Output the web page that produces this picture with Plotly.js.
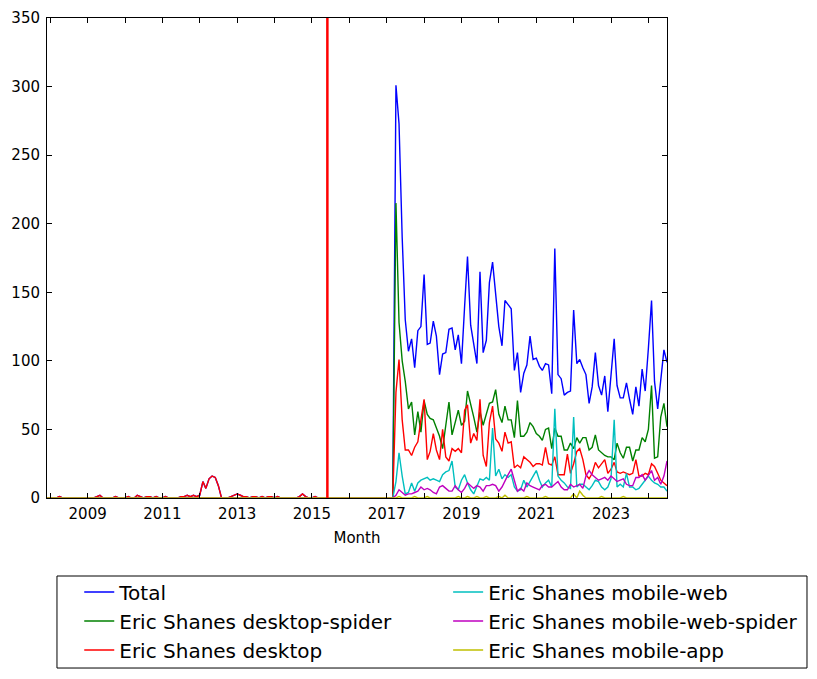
<!DOCTYPE html>
<html>
<head>
<meta charset="utf-8">
<script src="https://cdn.plot.ly/plotly-3.0.1.min.js"></script>
<style>html,body{margin:0;padding:0;background:#fff}#chart{width:817px;height:679px}</style>
</head>
<body>
<div id="chart"></div>
<script>
// Monthly series, first month 2007-12, last month 2024-07
const firstMonth = '2007-12';
const markerDate = '2015-06-01';

const seriesNames = ['Total', 'Eric Shanes desktop-spider', 'Eric Shanes desktop',
  'Eric Shanes mobile-web', 'Eric Shanes mobile-web-spider', 'Eric Shanes mobile-app'];

const total = [
  0,0,0,0,1,0,0,0,0,0, 0,0,0,0,0,0,1,2,0,0, 0,0,1,0,0,0,1,0,0,2, 1,0,1,1,0,1,0,0,1,0,
  0,0,0,1,1,2,1,2,1,2, 12,7,14,16,15,9,0,0,0,1, 2,3,2,1,1,0,1,1,0,1, 0,1,1,0,1,0,0,0,0,0,
  0,1,3,1,0,0,1,0,0,0, 0,0,0,0,0,0,0,0,0,0, 0,0,0,0,0,0,0,0,0,0, 0,0,
  301,273,190,130,107,116,95,122,125,163, 112,113,129,118,90,105,106,123,124,108,
  119,98,140,176,126,113,98,165,106,115, 157,172,150,125,111,144,141,138,93,106,
  77,91,97,118,101,102,96,93,98,97, 76,182,90,87,75,77,78,137,98,101,
  95,90,69,81,106,82,75,89,63,87, 116,82,73,73,84,72,61,81,67,94,
  78,109,144,85,65,86,108,99
];

const desktopSpider = [
  0,0,0,0,0,0,0,0,0,0, 0,0,0,0,0,0,0,0,0,0, 0,0,0,0,0,0,0,0,0,0, 0,0,0,0,0,0,0,0,0,0,
  0,0,0,0,0,0,0,0,0,0, 0,0,0,0,0,0,0,0,0,0, 0,0,0,0,0,0,0,0,0,0, 0,0,0,0,0,0,0,0,0,0,
  0,0,0,0,0,0,0,0,0,0, 0,0,0,0,0,0,0,0,0,0, 0,0,0,0,0,0,0,0,0,0, 0,0,
  215,128,100,85,65,70,46,63,48,71, 61,58,57,51,45,36,55,70,46,56,
  64,53,56,78,69,59,48,63,53,62, 69,70,79,61,55,67,57,57,44,71,
  45,45,48,55,52,47,45,42,50,51, 36,51,45,45,35,35,40,36,44,40,
  44,44,35,37,46,35,33,31,30,30, 28,40,33,29,37,37,27,35,35,44,
  41,50,82,29,30,59,69,52
];

const desktop = [
  0,0,0,0,1,0,0,0,0,0, 0,0,0,0,0,0,1,2,0,0, 0,0,1,0,0,0,1,0,0,2, 1,0,1,1,0,1,0,0,1,0,
  0,0,0,1,1,2,1,2,1,2, 12,7,14,16,15,9,0,0,0,1, 2,3,2,1,1,0,1,1,0,1, 0,1,1,0,1,0,0,0,0,0,
  0,1,3,1,0,0,1,0,0,0, 0,0,0,0,0,0,0,0,0,0, 0,0,0,0,0,0,0,0,0,0, 0,0,
  77,101,57,35,35,31,37,41,57,72, 28,34,47,35,28,50,30,27,36,34,
  36,33,64,68,40,47,42,72,31,23, 55,67,43,40,34,48,40,41,22,24,
  22,30,28,26,23,25,25,24,37,25, 24,30,17,17,17,32,18,25,34,36,
  28,17,14,18,26,22,25,28,18,21, 26,19,18,19,18,17,18,28,16,16,
  18,17,25,23,18,13,11,9
];

const mobileWeb = [
  0,0,0,0,0,0,0,0,0,0, 0,0,0,0,0,0,0,0,0,0, 0,0,0,0,0,0,0,0,0,0, 0,0,0,0,0,0,0,0,0,0,
  0,0,0,0,0,0,0,0,0,0, 0,0,0,0,0,0,0,0,0,0, 0,0,0,0,0,0,0,0,0,0, 0,0,0,0,0,0,0,0,0,0,
  0,0,0,0,0,0,0,0,0,0, 0,0,0,0,0,0,0,0,0,0, 0,0,0,0,0,0,0,0,0,0, 0,0,
  12,33,16,3,4,11,5,11,13,14, 15,13,14,13,12,17,19,20,27,8,
  6,13,17,11,6,3,8,14,13,15, 13,51,16,21,14,17,15,17,8,5,
  6,13,8,12,16,20,13,8,11,13, 8,65,16,13,11,8,7,59,8,10,
  10,8,6,9,13,12,8,6,8,14, 57,8,10,8,18,8,8,6,7,10,
  13,16,13,11,10,8,8,5
];

const mobileWebSpider = [
  0,0,0,0,0,0,0,0,0,0, 0,0,0,0,0,0,0,0,0,0, 0,0,0,0,0,0,0,0,0,0, 0,0,0,0,0,0,0,0,0,0,
  0,0,0,0,0,0,0,0,0,0, 0,0,0,0,0,0,0,0,0,0, 0,0,0,0,0,0,0,0,0,0, 0,0,0,0,0,0,0,0,0,0,
  0,0,0,0,0,0,0,0,0,0, 0,0,0,0,0,0,0,0,0,0, 0,0,0,0,0,0,0,0,0,0, 0,0,
  2,6,4,2,3,3,4,5,8,6, 7,6,4,3,8,9,7,5,5,9,
  6,4,7,11,9,7,9,8,5,9, 9,10,9,5,8,13,17,21,13,5,
  7,5,11,9,8,7,6,9,10,8, 8,10,12,8,6,6,10,8,9,10,
  7,16,20,17,15,13,14,15,13,16, 14,12,13,14,10,9,9,15,15,17,
  13,17,20,13,15,10,16,27
];

const mobileApp = [
  0,0,0,0,0,0,0,0,0,0, 0,0,0,0,0,0,0,0,0,0, 0,0,0,0,0,0,0,0,0,0, 0,0,0,0,0,0,0,0,0,0,
  0,0,0,0,0,0,0,0,0,0, 0,0,0,0,0,0,0,0,0,0, 0,0,0,0,0,0,0,0,0,0, 0,0,0,0,0,0,0,0,0,0,
  0,0,0,0,0,0,0,0,0,0, 0,0,0,0,0,0,0,0,0,0, 0,0,0,0,0,0,0,0,0,0, 0,0,
  0,1,0,0,0,0,1,0,0,0, 1,0,0,0,0,0,0,0,0,0,
  1,0,0,1,0,0,1,0,0,1, 0,0,0,1,0,2,0,0,0,0,
  0,0,1,0,0,0,0,0,1,0, 0,0,0,0,0,0,0,3,0,5,
  2,0,0,0,0,0,1,0,0,0, 0,0,0,1,0,0,0,0,0,0,
  0,0,0,0,0,0,0,0
];

// month axis positions
const months = [];
{
  let y = parseInt(firstMonth.slice(0, 4)), m = parseInt(firstMonth.slice(5, 7));
  for (let i = 0; i < total.length; i++) {
    months.push(y + '-' + String(m).padStart(2, '0') + '-01');
    m++; if (m > 12) { m = 1; y++; }
  }
}

const seriesValues = [total, desktopSpider, desktop, mobileWeb, mobileWebSpider, mobileApp];
const colors = ['#0000ff', '#008000', '#ff0000', '#00bfbf', '#bf00bf', '#bfbf00'];
const legendOf = ['legend', 'legend', 'legend', 'legend2', 'legend2', 'legend2'];

const FONT = 'DejaVu Sans, Liberation Sans, sans-serif';

const traces = seriesValues.map((vals, i) => ({
  type: 'scatter', mode: 'lines', x: months, y: vals, name: seriesNames[i],
  line: {color: colors[i], width: 1.4}, legend: legendOf[i], hoverinfo: 'skip'
}));

const axisCommon = {
  showline: true, linecolor: '#000', linewidth: 1, mirror: 'ticks',
  ticks: 'inside', ticklen: 5, tickcolor: '#000', tickwidth: 1,
  showgrid: false, zeroline: false,
  tickfont: {family: FONT, size: 15, color: '#000'}
};

const legendCommon = {
  xanchor: 'left', y: -0.1552, yanchor: 'top',
  font: {family: FONT, size: 20, color: '#000'}, bgcolor: 'rgba(0,0,0,0)', borderwidth: 0
};

const layout = {
  width: 817, height: 679,
  margin: {l: 47, r: 150, t: 18, b: 181, autoexpand: false},
  paper_bgcolor: '#fff', plot_bgcolor: '#fff',
  font: {family: FONT, color: '#000'},
  showlegend: true,
  xaxis: Object.assign({}, axisCommon, {
    type: 'date', range: [months[0], months[months.length - 1]],
    tick0: '2009-01-01', dtick: 'M24', tickformat: '%Y', ticklabelstandoff: 2,
    minor: {tick0: '2009-01-01', dtick: 'M12', ticks: 'inside', ticklen: 5, tickcolor: '#000', showgrid: false},
    title: {text: 'Month', font: {family: FONT, size: 15, color: '#000'}, standoff: 10},
    automargin: false
  }),
  yaxis: Object.assign({}, axisCommon, {
    range: [0, 350], dtick: 50, tick0: 0, automargin: false, ticklabelstandoff: 3
  }),
  legend: Object.assign({}, legendCommon, {x: 0.052}),
  legend2: Object.assign({}, legendCommon, {x: 0.647}),
  shapes: [
    {type: 'line', xref: 'x', yref: 'paper', x0: markerDate, x1: markerDate, y0: 0, y1: 1,
     line: {color: '#ff0000', width: 2.5}},
    {type: 'rect', xref: 'paper', yref: 'paper', x0: 0.0161, x1: 1.2258, y0: -0.3542, y1: -0.1625,
     line: {color: '#000', width: 1}, fillcolor: 'rgba(0,0,0,0)'}
  ]
};

Plotly.newPlot('chart', traces, layout, {displayModeBar: false, staticPlot: true});
</script>
</body>
</html>
